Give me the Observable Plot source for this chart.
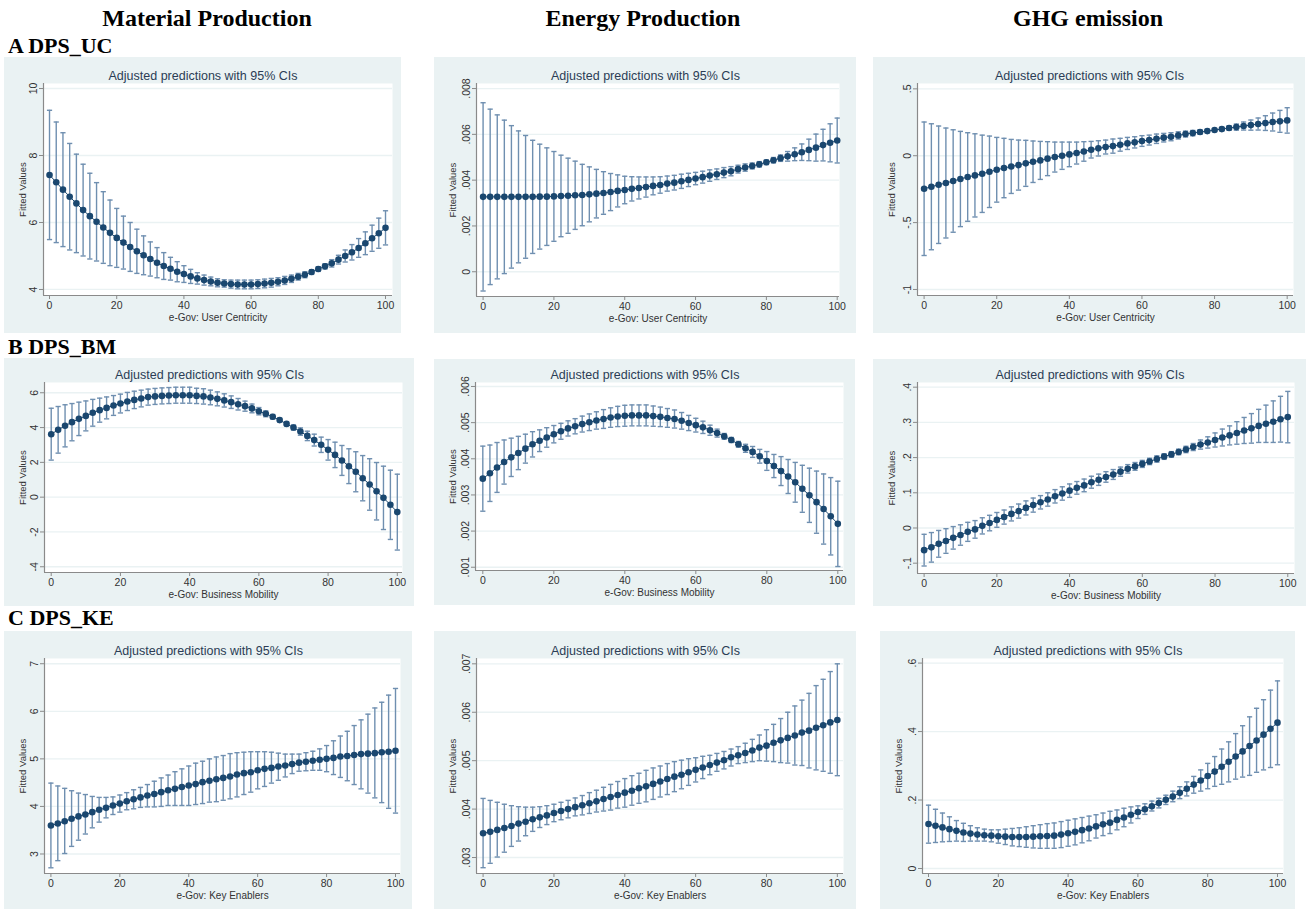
<!DOCTYPE html>
<html>
<head>
<meta charset="utf-8">
<script src="https://cdn.jsdelivr.net/npm/d3@7"></script>
<script src="https://cdn.jsdelivr.net/npm/@observablehq/plot@0.6"></script>
<style>
  html, body { margin: 0; padding: 0; background: #ffffff; }
  #root { position: relative; width: 1306px; height: 910px; overflow: hidden; background: #ffffff; }
  .hdr { position: absolute; font-family: "Liberation Serif", "Times New Roman", serif; font-weight: bold; color: #000; line-height: 1; white-space: nowrap; }
  .col { font-size: 24px; text-align: center; width: 320px; }
  .row { font-size: 22px; }
  .panel { position: absolute; }
  .panel svg { display: block; }
</style>
</head>
<body>
<div id="root"></div>
<script>
// ---------------- DATA ----------------
const columnTitles = ["Material Production", "Energy Production", "GHG emission"];
const rowTitles = ["A DPS_UC", "B DPS_BM", "C DPS_KE"];
const panelTitle = "Adjusted predictions with 95% CIs";
const yLabel = "Fitted Values";
const xLabels = ["e-Gov: User Centricity", "e-Gov: Business Mobility", "e-Gov: Key Enablers"];

const xValues = [0,2,4,6,8,10,12,14,16,18,20,22,24,26,28,30,32,34,36,38,40,42,44,46,48,50,52,54,56,58,60,62,64,66,68,70,72,74,76,78,80,82,84,86,88,90,92,94,96,98,100];
const xTicks = [0, 20, 40, 60, 80, 100];

// A: User Centricity
const matUC_est = [7.42,7.20,6.98,6.77,6.57,6.37,6.19,6.02,5.85,5.69,5.54,5.40,5.27,5.14,5.02,4.91,4.80,4.70,4.62,4.53,4.46,4.39,4.33,4.28,4.24,4.20,4.18,4.16,4.15,4.15,4.15,4.16,4.18,4.20,4.23,4.27,4.32,4.38,4.44,4.52,4.61,4.69,4.78,4.89,5.00,5.11,5.24,5.38,5.53,5.68,5.84];
const matUC_hi  = [9.35,9.00,8.68,8.36,8.04,7.74,7.47,7.19,6.92,6.67,6.42,6.19,6.00,5.80,5.60,5.42,5.25,5.10,4.96,4.83,4.71,4.60,4.50,4.43,4.37,4.32,4.29,4.28,4.28,4.28,4.28,4.29,4.31,4.33,4.35,4.39,4.43,4.48,4.53,4.59,4.68,4.77,4.89,5.02,5.18,5.34,5.52,5.72,5.92,6.13,6.35];
const matUC_lo  = [5.49,5.40,5.28,5.18,5.10,5.00,4.91,4.85,4.78,4.71,4.66,4.61,4.54,4.48,4.44,4.40,4.35,4.30,4.28,4.23,4.21,4.18,4.16,4.13,4.11,4.08,4.07,4.04,4.02,4.02,4.02,4.03,4.05,4.07,4.11,4.15,4.21,4.28,4.35,4.45,4.54,4.61,4.67,4.76,4.82,4.88,4.96,5.04,5.14,5.23,5.33];
const matUC_yTicks = [4, 6, 8, 10];

const enUC_est = [0.00327,0.00327,0.00327,0.00327,0.00327,0.00327,0.00327,0.00327,0.00328,0.00328,0.00329,0.00331,0.00332,0.00334,0.00335,0.00338,0.00341,0.00344,0.00348,0.00353,0.00357,0.00362,0.00366,0.00370,0.00375,0.00379,0.00385,0.00389,0.00395,0.00401,0.00407,0.00413,0.00420,0.00426,0.00433,0.00439,0.00448,0.00455,0.00462,0.00469,0.00478,0.00487,0.00496,0.00504,0.00513,0.00522,0.00532,0.00542,0.00553,0.00563,0.00573];
const enUC_hi  = [0.00738,0.00710,0.00685,0.00662,0.00638,0.00615,0.00595,0.00574,0.00557,0.00541,0.00525,0.00509,0.00496,0.00483,0.00469,0.00458,0.00447,0.00437,0.00429,0.00423,0.00417,0.00415,0.00414,0.00414,0.00414,0.00415,0.00418,0.00421,0.00426,0.00430,0.00434,0.00439,0.00445,0.00449,0.00455,0.00459,0.00465,0.00471,0.00475,0.00481,0.00488,0.00499,0.00510,0.00525,0.00541,0.00558,0.00579,0.00601,0.00622,0.00646,0.00671];
const enUC_lo  = [-0.00084,-0.00056,-0.00031,-0.00008,0.00016,0.00039,0.00059,0.00080,0.00099,0.00115,0.00133,0.00153,0.00168,0.00185,0.00201,0.00218,0.00235,0.00251,0.00267,0.00283,0.00297,0.00309,0.00318,0.00326,0.00336,0.00343,0.00352,0.00357,0.00364,0.00372,0.00380,0.00387,0.00395,0.00403,0.00411,0.00419,0.00431,0.00439,0.00449,0.00457,0.00468,0.00475,0.00482,0.00483,0.00485,0.00486,0.00485,0.00483,0.00484,0.00480,0.00475];
const enUC_yTicks = [0, 0.002, 0.004, 0.006, 0.008];

const ghgUC_est = [-0.247,-0.232,-0.217,-0.204,-0.189,-0.174,-0.159,-0.147,-0.135,-0.120,-0.105,-0.092,-0.080,-0.070,-0.057,-0.045,-0.035,-0.022,-0.010,0.000,0.010,0.020,0.032,0.045,0.055,0.065,0.072,0.082,0.092,0.100,0.110,0.117,0.127,0.135,0.142,0.152,0.162,0.169,0.177,0.184,0.192,0.199,0.207,0.214,0.222,0.229,0.237,0.244,0.252,0.257,0.264];
const ghgUC_hi  = [0.252,0.239,0.222,0.207,0.194,0.182,0.172,0.164,0.154,0.147,0.137,0.130,0.122,0.117,0.115,0.110,0.107,0.105,0.102,0.102,0.102,0.102,0.105,0.107,0.112,0.117,0.125,0.130,0.137,0.142,0.150,0.154,0.162,0.167,0.172,0.179,0.184,0.189,0.194,0.197,0.202,0.212,0.224,0.237,0.252,0.267,0.282,0.299,0.319,0.339,0.359];
const ghgUC_lo  = [-0.746,-0.703,-0.656,-0.615,-0.572,-0.530,-0.490,-0.458,-0.424,-0.387,-0.347,-0.314,-0.282,-0.257,-0.229,-0.200,-0.177,-0.149,-0.122,-0.102,-0.082,-0.062,-0.041,-0.017,-0.002,0.013,0.019,0.034,0.047,0.058,0.070,0.080,0.092,0.103,0.112,0.125,0.140,0.149,0.160,0.171,0.182,0.186,0.190,0.191,0.192,0.191,0.192,0.189,0.185,0.175,0.169];
const ghgUC_yTicks = [-1, -0.5, 0, 0.5];

// B: Business Mobility
const matBM_est = [3.62,3.87,4.10,4.31,4.50,4.67,4.85,5.00,5.13,5.27,5.38,5.50,5.59,5.67,5.75,5.79,5.82,5.84,5.86,5.86,5.86,5.82,5.79,5.73,5.65,5.56,5.46,5.34,5.23,5.10,4.94,4.79,4.62,4.43,4.21,4.00,3.77,3.52,3.28,3.01,2.72,2.43,2.11,1.78,1.46,1.09,0.73,0.34,-0.04,-0.44,-0.86];
const matBM_hi  = [5.11,5.21,5.31,5.38,5.46,5.53,5.62,5.69,5.76,5.84,5.92,6.02,6.09,6.15,6.21,6.25,6.28,6.30,6.32,6.32,6.32,6.26,6.23,6.15,6.05,5.94,5.82,5.67,5.52,5.35,5.15,4.96,4.75,4.54,4.32,4.15,3.98,3.79,3.62,3.45,3.31,3.16,2.97,2.78,2.61,2.39,2.21,1.99,1.78,1.55,1.32];
const matBM_lo  = [2.13,2.53,2.89,3.24,3.54,3.81,4.08,4.31,4.50,4.70,4.84,4.98,5.09,5.19,5.29,5.33,5.36,5.38,5.40,5.40,5.40,5.38,5.35,5.31,5.25,5.18,5.10,5.01,4.94,4.85,4.73,4.62,4.49,4.32,4.10,3.85,3.56,3.25,2.94,2.57,2.13,1.70,1.25,0.78,0.31,-0.21,-0.75,-1.31,-1.86,-2.43,-3.04];
const matBM_yTicks = [-4, -2, 0, 2, 4, 6];

const enBM_est = [0.00345,0.00360,0.00376,0.00391,0.00404,0.00416,0.00428,0.00440,0.00450,0.00459,0.00468,0.00476,0.00484,0.00490,0.00496,0.00501,0.00506,0.00510,0.00514,0.00517,0.00519,0.00520,0.00520,0.00520,0.00518,0.00516,0.00513,0.00510,0.00505,0.00499,0.00493,0.00487,0.00479,0.00471,0.00462,0.00452,0.00440,0.00429,0.00419,0.00407,0.00394,0.00380,0.00366,0.00351,0.00335,0.00317,0.00299,0.00280,0.00261,0.00241,0.00220];
const enBM_hi  = [0.00435,0.00438,0.00445,0.00452,0.00457,0.00462,0.00468,0.00475,0.00480,0.00486,0.00492,0.00498,0.00505,0.00511,0.00518,0.00524,0.00530,0.00536,0.00541,0.00545,0.00548,0.00549,0.00549,0.00549,0.00546,0.00543,0.00539,0.00535,0.00528,0.00520,0.00512,0.00504,0.00493,0.00482,0.00470,0.00459,0.00448,0.00440,0.00434,0.00426,0.00420,0.00412,0.00406,0.00398,0.00390,0.00382,0.00374,0.00366,0.00358,0.00348,0.00338];
const enBM_lo  = [0.00255,0.00282,0.00307,0.00330,0.00351,0.00370,0.00388,0.00405,0.00420,0.00432,0.00444,0.00454,0.00463,0.00469,0.00474,0.00478,0.00482,0.00484,0.00487,0.00489,0.00490,0.00491,0.00491,0.00491,0.00490,0.00489,0.00487,0.00485,0.00482,0.00478,0.00474,0.00470,0.00465,0.00460,0.00454,0.00445,0.00432,0.00418,0.00404,0.00388,0.00368,0.00348,0.00326,0.00304,0.00280,0.00252,0.00224,0.00194,0.00164,0.00134,0.00102];
const enBM_yTicks = [0.001, 0.002, 0.003, 0.004, 0.005, 0.006];

const ghgBM_est = [-0.063,-0.055,-0.045,-0.037,-0.028,-0.020,-0.011,-0.004,0.006,0.014,0.023,0.031,0.040,0.048,0.057,0.065,0.073,0.081,0.090,0.098,0.106,0.114,0.121,0.130,0.137,0.145,0.152,0.160,0.168,0.175,0.182,0.189,0.196,0.203,0.209,0.216,0.223,0.230,0.237,0.243,0.250,0.257,0.263,0.270,0.277,0.283,0.290,0.296,0.302,0.309,0.315];
const ghgBM_hi  = [-0.018,-0.013,-0.007,-0.002,0.004,0.009,0.016,0.021,0.029,0.036,0.044,0.051,0.060,0.068,0.077,0.085,0.092,0.100,0.109,0.117,0.125,0.132,0.139,0.147,0.153,0.160,0.166,0.173,0.180,0.186,0.192,0.198,0.205,0.211,0.217,0.224,0.232,0.240,0.250,0.259,0.270,0.281,0.290,0.302,0.314,0.325,0.337,0.349,0.361,0.374,0.388];
const ghgBM_lo  = [-0.108,-0.097,-0.083,-0.072,-0.060,-0.049,-0.038,-0.029,-0.017,-0.008,0.002,0.011,0.020,0.028,0.037,0.045,0.054,0.062,0.071,0.079,0.087,0.096,0.103,0.113,0.121,0.130,0.138,0.147,0.156,0.164,0.172,0.180,0.187,0.195,0.201,0.208,0.214,0.220,0.224,0.227,0.230,0.233,0.236,0.238,0.240,0.241,0.243,0.243,0.243,0.244,0.242];
const ghgBM_yTicks = [-0.1, 0, 0.1, 0.2, 0.3, 0.4];

// C: Key Enablers
const matKE_est = [3.60,3.64,3.69,3.74,3.79,3.83,3.88,3.93,3.97,4.02,4.06,4.11,4.15,4.19,4.23,4.26,4.30,4.34,4.37,4.41,4.44,4.47,4.51,4.54,4.57,4.60,4.63,4.67,4.70,4.72,4.76,4.79,4.81,4.84,4.86,4.89,4.92,4.94,4.96,4.98,5.00,5.02,5.05,5.06,5.08,5.10,5.11,5.12,5.14,5.15,5.17];
const matKE_hi  = [4.49,4.43,4.38,4.33,4.28,4.25,4.21,4.19,4.19,4.20,4.24,4.29,4.35,4.40,4.46,4.53,4.60,4.66,4.73,4.79,4.85,4.91,4.95,5.00,5.04,5.07,5.11,5.13,5.14,5.15,5.15,5.15,5.14,5.12,5.10,5.10,5.10,5.13,5.16,5.21,5.28,5.38,5.48,5.58,5.70,5.82,5.94,6.07,6.19,6.34,6.48];
const matKE_lo  = [2.71,2.86,3.01,3.16,3.29,3.42,3.55,3.67,3.76,3.83,3.88,3.93,3.95,3.98,3.99,3.99,4.00,4.02,4.02,4.02,4.02,4.04,4.06,4.09,4.10,4.13,4.16,4.20,4.25,4.30,4.37,4.42,4.49,4.55,4.62,4.69,4.74,4.75,4.76,4.76,4.73,4.67,4.61,4.54,4.46,4.37,4.28,4.18,4.08,3.96,3.86];
const matKE_yTicks = [3, 4, 5, 6, 7];

const enKE_est = [0.00350,0.00353,0.00357,0.00361,0.00365,0.00370,0.00374,0.00379,0.00383,0.00387,0.00392,0.00396,0.00400,0.00404,0.00408,0.00412,0.00416,0.00421,0.00425,0.00429,0.00434,0.00438,0.00443,0.00447,0.00452,0.00457,0.00462,0.00467,0.00471,0.00476,0.00481,0.00486,0.00491,0.00496,0.00501,0.00507,0.00511,0.00516,0.00521,0.00527,0.00531,0.00537,0.00542,0.00547,0.00552,0.00558,0.00562,0.00568,0.00573,0.00579,0.00584];
const enKE_hi  = [0.00422,0.00418,0.00414,0.00410,0.00407,0.00405,0.00404,0.00404,0.00405,0.00407,0.00410,0.00414,0.00418,0.00423,0.00428,0.00434,0.00439,0.00445,0.00451,0.00457,0.00463,0.00469,0.00474,0.00480,0.00485,0.00489,0.00494,0.00498,0.00501,0.00504,0.00506,0.00509,0.00511,0.00515,0.00519,0.00524,0.00529,0.00536,0.00544,0.00553,0.00564,0.00575,0.00587,0.00600,0.00613,0.00625,0.00639,0.00655,0.00668,0.00684,0.00700];
const enKE_lo  = [0.00279,0.00288,0.00301,0.00311,0.00323,0.00334,0.00345,0.00354,0.00362,0.00368,0.00374,0.00378,0.00382,0.00386,0.00388,0.00391,0.00394,0.00396,0.00398,0.00402,0.00404,0.00408,0.00412,0.00415,0.00420,0.00425,0.00430,0.00436,0.00442,0.00449,0.00456,0.00463,0.00471,0.00478,0.00483,0.00489,0.00494,0.00496,0.00498,0.00500,0.00499,0.00498,0.00496,0.00495,0.00491,0.00490,0.00485,0.00481,0.00478,0.00474,0.00469];
const enKE_yTicks = [0.003, 0.004, 0.005, 0.006, 0.007];

const ghgKE_est = [0.130,0.125,0.120,0.115,0.110,0.105,0.102,0.099,0.097,0.096,0.094,0.093,0.092,0.092,0.092,0.093,0.094,0.095,0.096,0.099,0.103,0.107,0.112,0.117,0.123,0.129,0.134,0.142,0.149,0.157,0.165,0.173,0.182,0.191,0.201,0.210,0.221,0.233,0.245,0.257,0.270,0.283,0.297,0.312,0.327,0.342,0.358,0.374,0.391,0.408,0.426];
const ghgKE_hi  = [0.185,0.173,0.162,0.151,0.140,0.132,0.125,0.119,0.115,0.113,0.113,0.115,0.117,0.119,0.122,0.125,0.128,0.131,0.133,0.137,0.141,0.145,0.149,0.153,0.157,0.162,0.167,0.171,0.176,0.180,0.183,0.189,0.197,0.205,0.214,0.226,0.239,0.253,0.269,0.288,0.307,0.327,0.349,0.370,0.394,0.417,0.443,0.468,0.493,0.521,0.548];
const ghgKE_lo  = [0.074,0.076,0.078,0.079,0.080,0.079,0.080,0.080,0.080,0.078,0.074,0.070,0.066,0.064,0.062,0.060,0.059,0.059,0.059,0.061,0.065,0.069,0.075,0.081,0.089,0.096,0.102,0.113,0.122,0.133,0.146,0.158,0.168,0.177,0.187,0.195,0.204,0.212,0.220,0.226,0.233,0.240,0.246,0.253,0.261,0.267,0.272,0.281,0.288,0.295,0.303];
const ghgKE_yTicks = [0, 0.2, 0.4, 0.6];

// ---------------- STYLE / LAYOUT ----------------
const bgColor = "#eaf2f3";
const navy = "#1a476f";
const ciColor = "#6f8fb0";
const axisColor = "#8a8a8a";
const textColor = "#333333";
const titleColor = "#2b3d55";
const sans = "'Liberation Sans', Arial, Helvetica, sans-serif";

// m = [top, right, bottom, left]; xlDy = offset of x-axis title below the frame
const panels = [
  {est: matUC_est, lo: matUC_lo, hi: matUC_hi, yTicks: matUC_yTicks, xLab: xLabels[0], left: 4,   top: 57,  w: 397, h: 276, m: [26, 9, 38, 39],  xlDy: 22, xd: [-1.79, 102.08], yd: [3.82, 10.15]},
  {est: enUC_est,  lo: enUC_lo,  hi: enUC_hi,  yTicks: enUC_yTicks,  xLab: xLabels[0], left: 434, top: 57,  w: 422, h: 276, m: [26, 17, 37, 42], xlDy: 22, xd: [-1.86, 100.65], yd: [-0.00108, 0.00822]},
  {est: ghgUC_est, lo: ghgUC_lo, hi: ghgUC_hi, yTicks: ghgUC_yTicks, xLab: xLabels[0], left: 873, top: 57,  w: 432, h: 276, m: [26, 12, 38, 44], xlDy: 22, xd: [-1.82, 101.74], yd: [-1.045, 0.54]},
  {est: matBM_est, lo: matBM_lo, hi: matBM_hi, yTicks: matBM_yTicks, xLab: xLabels[1], left: 4,   top: 358, w: 410, h: 248, m: [24, 12, 34, 40], xlDy: 22, xd: [-1.94, 101.5],  yd: [-4.33, 6.59]},
  {est: enBM_est,  lo: enBM_lo,  hi: enBM_hi,  yTicks: enBM_yTicks,  xLab: xLabels[1], left: 434, top: 359, w: 421, h: 246, m: [23, 12, 35, 41], xlDy: 22, xd: [-2.06, 101.6],  yd: [0.00091, 0.00611]},
  {est: ghgBM_est, lo: ghgBM_lo, hi: ghgBM_hi, yTicks: ghgBM_yTicks, xLab: xLabels[1], left: 873, top: 359, w: 433, h: 247, m: [23, 12, 33, 44], xlDy: 22, xd: [-1.82, 101.85], yd: [-0.1293, 0.4133]},
  {est: matKE_est, lo: matKE_lo, hi: matKE_hi, yTicks: matKE_yTicks, xLab: xLabels[2], left: 4,   top: 631, w: 408, h: 278, m: [27, 12, 36, 40], xlDy: 22, xd: [-1.86, 101.45], yd: [2.59, 7.11]},
  {est: enKE_est,  lo: enKE_lo,  hi: enKE_hi,  yTicks: enKE_yTicks,  xLab: xLabels[2], left: 434, top: 631, w: 422, h: 278, m: [27, 13, 36, 42], xlDy: 22, xd: [-1.86, 101.74], yd: [0.00267, 0.00711]},
  {est: ghgKE_est, lo: ghgKE_lo, hi: ghgKE_hi, yTicks: ghgKE_yTicks, xLab: xLabels[2], left: 880, top: 631, w: 415, h: 278, m: [27, 12, 36, 42], xlDy: 22, xd: [-1.72, 101.72], yd: [-0.0146, 0.6134]}
];

// Stata-style number format: no leading zero
function stataFmt(v) {
  const s = String(+(+v).toPrecision(10));
  return s.replace(/^(-?)0\./, "$1.");
}

// horizontal cap symbol for CI ends
const capSymbol = {
  draw(context, size) {
    const r = Math.sqrt(size / Math.PI);
    context.moveTo(-r, 0);
    context.lineTo(r, 0);
  }
};

const root = document.getElementById("root");

// headers
const colCenters = [207, 643, 1088];
columnTitles.forEach((t, i) => {
  const d = document.createElement("div");
  d.className = "hdr col";
  d.textContent = t;
  d.style.left = (colCenters[i] - 160) + "px";
  d.style.top = "6px";
  root.appendChild(d);
});
const rowTops = [35, 336, 607];
rowTitles.forEach((t, i) => {
  const d = document.createElement("div");
  d.className = "hdr row";
  d.textContent = t;
  d.style.left = "8px";
  d.style.top = rowTops[i] + "px";
  root.appendChild(d);
});

// panels
panels.forEach(p => {
  const [mT, mR, mB, mL] = p.m;
  const data = xValues.map((x, i) => ({x, est: p.est[i], lo: p.lo[i], hi: p.hi[i]}));
  const chart = Plot.plot({
    width: p.w,
    height: p.h,
    marginTop: mT, marginRight: mR, marginBottom: mB, marginLeft: mL,
    style: {background: bgColor, fontFamily: sans, overflow: "visible"},
    x: {domain: p.xd, label: null},
    y: {domain: p.yd, label: null},
    marks: [
      Plot.frame({fill: "white", stroke: "none"}),
      Plot.gridY(p.yTicks, {stroke: bgColor, strokeOpacity: 1, strokeWidth: 1.3}),
      Plot.ruleX(data, {x: "x", y1: "lo", y2: "hi", stroke: ciColor, strokeWidth: 1.4}),
      Plot.dot(data, {x: "x", y: "hi", symbol: capSymbol, r: 2.6, stroke: ciColor, fill: "none", strokeWidth: 1.4}),
      Plot.dot(data, {x: "x", y: "lo", symbol: capSymbol, r: 2.6, stroke: ciColor, fill: "none", strokeWidth: 1.4}),
      Plot.line(data, {x: "x", y: "est", stroke: navy, strokeWidth: 1}),
      Plot.dot(data, {x: "x", y: "est", r: 3.3, fill: navy, stroke: "none"}),
      Plot.ruleX([p.xd[0]], {stroke: axisColor, strokeWidth: 1.2}),
      Plot.ruleY([p.yd[0]], {stroke: axisColor, strokeWidth: 1.2}),
      Plot.axisX(xTicks, {tickSize: 4, tickPadding: 2, stroke: axisColor, fill: textColor, fontSize: 10.5, label: null, tickFormat: stataFmt}),
      Plot.axisY(p.yTicks, {tickSize: 4, tickPadding: 3, tickRotate: -90, stroke: axisColor, fill: textColor, fontSize: 10.5, label: null, tickFormat: stataFmt}),
      Plot.text([panelTitle], {frameAnchor: "top", dy: -8, dx: (mR - mL) / 2, fill: titleColor, fontSize: 12.5, lineAnchor: "middle"}),
      Plot.text([yLabel], {frameAnchor: "left", dx: 18 - mL, rotate: -90, fill: textColor, fontSize: 9.5, lineAnchor: "middle", textAnchor: "middle"}),
      Plot.text([p.xLab], {frameAnchor: "bottom", dy: p.xlDy, fill: textColor, fontSize: 10, lineAnchor: "middle"})
    ]
  });
  const wrap = document.createElement("div");
  wrap.className = "panel";
  wrap.style.left = p.left + "px";
  wrap.style.top = p.top + "px";
  wrap.appendChild(chart);
  root.appendChild(wrap);
});
</script>
</body>
</html>
